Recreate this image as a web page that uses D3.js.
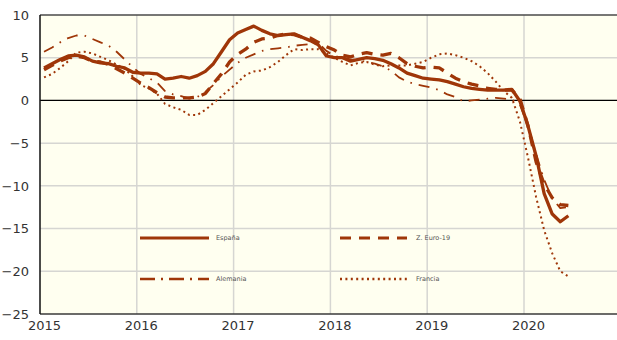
<!DOCTYPE html>
<html>
<head>
<meta charset="utf-8">
<script src="https://cdn.jsdelivr.net/npm/d3@7"></script>
<style>
  html, body { margin: 0; padding: 0; background: #ffffff; }
  svg { display: block; }
</style>
</head>
<body>
<svg id="chart" width="617" height="340"></svg>
<script>
// Monthly series, January 2015 to June 2020 (year-on-year rate, %)
const startYear = 2015;
const espana = [3.8,4.3,4.8,5.2,5.3,5.1,4.6,4.4,4.3,4.0,3.8,3.3,
  3.2,3.2,3.1,2.5,2.6,2.8,2.6,2.9,3.4,4.3,5.7,7.1,
  7.9,8.3,8.7,8.2,7.8,7.6,7.7,7.8,7.4,7.0,6.5,5.2,
  5.0,5.0,4.6,4.8,5.0,4.9,4.7,4.3,3.8,3.2,2.9,2.6,
  2.5,2.4,2.2,1.9,1.6,1.4,1.3,1.2,1.2,1.2,1.3,-0.1,
  -3.0,-6.5,-10.9,-13.3,-14.2,-13.5];
const zonaEuro = [3.6,4.1,4.6,5.0,5.2,5.0,4.6,4.5,4.2,3.7,3.2,2.6,
  2.0,1.5,0.9,0.4,0.3,0.3,0.3,0.4,0.8,2.0,3.1,4.5,
  5.4,6.0,6.8,7.2,7.3,7.6,7.8,7.7,7.4,7.3,6.8,6.3,
  5.9,5.3,5.1,5.4,5.6,5.4,5.3,5.5,5.0,4.3,4.0,3.8,
  3.9,3.8,3.2,2.6,2.2,1.9,1.7,1.4,1.3,1.2,1.2,0.2,
  -3.0,-7.2,-9.8,-11.4,-12.2,-12.3];
const alemania = [5.7,6.2,6.8,7.3,7.6,7.6,7.2,6.8,6.4,5.7,4.8,3.9,
  3.1,2.6,2.1,1.1,0.7,0.5,0.2,0.4,1.0,1.8,2.8,3.6,
  4.4,5.0,5.4,5.8,6.0,6.1,6.2,6.4,6.5,6.6,6.7,5.8,
  5.2,5.0,4.8,4.7,4.5,4.3,4.0,3.5,2.7,2.2,1.9,1.7,
  1.5,1.2,0.7,0.4,-0.1,0.0,0.1,0.2,0.3,0.2,0.1,-0.5,
  -3.0,-6.3,-9.3,-11.5,-12.6,-12.5];
const francia = [2.7,3.1,3.8,4.6,5.6,5.7,5.5,5.1,4.7,4.2,3.7,2.8,
  1.8,1.4,0.8,-0.4,-0.8,-1.1,-1.7,-1.7,-1.1,-0.3,0.5,1.3,
  2.1,3.0,3.4,3.5,3.9,4.5,5.3,6.0,5.9,6.0,6.0,5.5,
  5.0,4.5,4.1,4.4,4.5,4.2,4.0,4.1,4.1,4.1,4.3,4.5,
  5.0,5.4,5.5,5.3,5.0,4.6,4.0,3.2,2.2,1.1,0.3,-2.5,
  -6.7,-11.3,-15.2,-17.9,-20.0,-20.6];

const seriesNames = ["España", "Z. Euro-19", "Alemania", "Francia"];
const yearTicks = [2015, 2016, 2017, 2018, 2019, 2020];
const valueTicks = [10, 5, 0, -5, -10, -15, -20, -25];

const color = "#9f3608";
const styles = [
  { width: 3.3, dash: null, legendDash: null },
  { width: 3.3, dash: "11,8", legendDash: "11,8" },
  { width: 1.8, dash: "11,7,1.6,7", legendDash: "15,6,2,6" },
  { width: 2.0, dash: "2,3.4", legendDash: "2,3.4" }
];
const seriesData = [espana, zonaEuro, alemania, francia];

const svg = d3.select("#chart");
const m = { left: 40, top: 15, bottom: 26 };
const W = 617, H = 340;
const pxPerYear = 96.8;

const x = d3.scaleLinear()
  .domain([2015, 2015 + (W - m.left) / pxPerYear])
  .range([m.left, W]);
const y = d3.scaleLinear().domain([-25, 10]).range([H - m.bottom, m.top]);

// plot background
svg.append("rect")
  .attr("x", m.left).attr("y", m.top)
  .attr("width", W - m.left).attr("height", y(-25) - m.top)
  .attr("fill", "#fffff0");

// gridlines
const grid = svg.append("g");
grid.selectAll("line.h").data(valueTicks.filter(v => v !== 0 && v !== 10 && v !== -25))
  .join("line")
  .attr("x1", m.left).attr("x2", W)
  .attr("y1", d => y(d)).attr("y2", d => y(d))
  .attr("stroke", "#d6d6d2").attr("stroke-width", 1.5);
grid.selectAll("line.v").data(yearTicks.filter(t => t !== 2015))
  .join("line")
  .attr("x1", d => x(d)).attr("x2", d => x(d))
  .attr("y1", m.top).attr("y2", y(-25))
  .attr("stroke", "#d6d6d2").attr("stroke-width", 1.5);

// frame
svg.append("line").attr("x1", m.left).attr("x2", W).attr("y1", m.top).attr("y2", m.top)
  .attr("stroke", "#4a4a4a").attr("stroke-width", 1.5);
svg.append("line").attr("x1", m.left).attr("x2", W).attr("y1", y(-25)).attr("y2", y(-25))
  .attr("stroke", "#3a3a3a").attr("stroke-width", 1.5);
svg.append("line").attr("x1", m.left).attr("x2", W).attr("y1", y(0)).attr("y2", y(0))
  .attr("stroke", "#000").attr("stroke-width", 1.2);
svg.append("line").attr("x1", m.left).attr("x2", m.left).attr("y1", m.top).attr("y2", y(-25))
  .attr("stroke", "#111").attr("stroke-width", 1.5);

// axes
const yAxis = svg.append("g")
  .attr("transform", `translate(${m.left - 11},0)`)
  .call(d3.axisLeft(y).tickValues(valueTicks).tickSize(0).tickPadding(0));
yAxis.select(".domain").remove();
yAxis.selectAll("text").attr("font-family", "DejaVu Sans").attr("font-size", 13).attr("fill", "#333");

const xAxis = svg.append("g")
  .attr("transform", `translate(4,${y(-25) + 7})`)
  .call(d3.axisBottom(x).tickValues(yearTicks).tickFormat(d3.format("d")).tickSize(0).tickPadding(0));
xAxis.select(".domain").remove();
xAxis.selectAll("text").attr("font-family", "DejaVu Sans").attr("font-size", 13).attr("fill", "#333");

// series, plotted at mid-month
const line = d3.line()
  .x((d, i) => x(startYear + (i + 0.5) / 12))
  .y(d => y(d));

const lines = svg.append("g");
seriesData.forEach((s, k) => {
  lines.append("path")
    .attr("d", line(s))
    .attr("fill", "none")
    .attr("stroke", color)
    .attr("stroke-width", styles[k].width)
    .attr("stroke-linejoin", "round")
    .attr("stroke-dasharray", styles[k].dash);
});

// legend
const legendPos = [
  { x0: 140, x1: 209, yv: -16.1, tx: 216 },
  { x0: 340, x1: 407, yv: -16.1, tx: 416 },
  { x0: 140, x1: 209, yv: -20.9, tx: 216 },
  { x0: 340, x1: 407, yv: -20.9, tx: 416 }
];
const legend = svg.append("g");
seriesNames.forEach((name, k) => {
  const p = legendPos[k];
  legend.append("line")
    .attr("x1", p.x0).attr("x2", p.x1)
    .attr("y1", y(p.yv)).attr("y2", y(p.yv))
    .attr("stroke", color)
    .attr("stroke-width", k < 2 ? 3 : 2.4)
    .attr("stroke-dasharray", styles[k].legendDash);
  legend.append("text")
    .attr("x", p.tx).attr("y", y(p.yv))
    .attr("dy", "0.35em")
    .attr("font-family", "DejaVu Sans")
    .attr("font-size", 6.5)
    .attr("fill", "#555")
    .text(name);
});
</script>
</body>
</html>
